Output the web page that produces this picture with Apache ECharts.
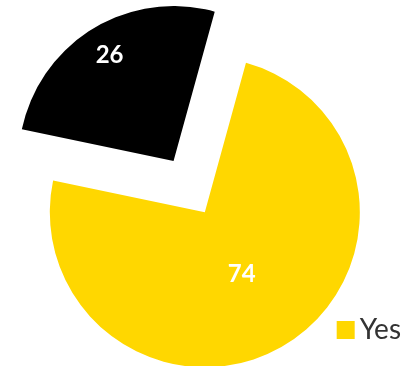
<!DOCTYPE html>
<html>
<head>
<meta charset="utf-8">
<script src="https://cdn.jsdelivr.net/npm/echarts@6/dist/echarts.min.js"></script>
<style>
  html, body { margin: 0; padding: 0; background: #fff; }
  #chart { width: 408px; height: 366px; }
</style>
</head>
<body>
<div id="chart"></div>
<script>
// Answer shares
const categories = ['Yes', 'No'];
const values = [74, 26];
const colors = ['#FFD700', '#000000'];
const legendItems = ['Yes'];

// Nudges for the value labels (pixels), per slice
const labelShift = {
  Yes: { dx: -5, dy: -7 },
  No: { dx: -22, dy: -37 }
};

const chart = echarts.init(document.getElementById('chart'), null, { renderer: 'canvas' });

const pieData = categories.map((name, i) => ({
  name: name,
  value: values[i],
  selected: name === 'No',
  itemStyle: { color: colors[i] }
}));

chart.setOption({
  animation: false,
  legend: {
    data: legendItems,
    right: 2,
    top: 311,
    icon: 'rect',
    itemWidth: 18,
    itemHeight: 18,
    itemGap: 10,
    textStyle: { fontFamily: 'Lato', fontSize: 28, color: '#333333' }
  },
  series: [{
    type: 'pie',
    center: ['50.2%', '58%'],
    radius: 155,
    startAngle: 74.6,
    clockwise: true,
    selectedMode: 'single',
    selectedOffset: 60,
    label: {
      show: true,
      position: 'inside',
      formatter: '{c}',
      color: '#ffffff',
      fontFamily: 'Lato',
      fontWeight: 'bold',
      fontSize: 24
    },
    labelLayout: function (params) {
      const s = labelShift[categories[params.dataIndex]];
      return s ? { dx: s.dx, dy: s.dy } : {};
    },
    labelLine: { show: false },
    emphasis: { disabled: true },
    data: pieData
  }]
});
</script>
</body>
</html>
